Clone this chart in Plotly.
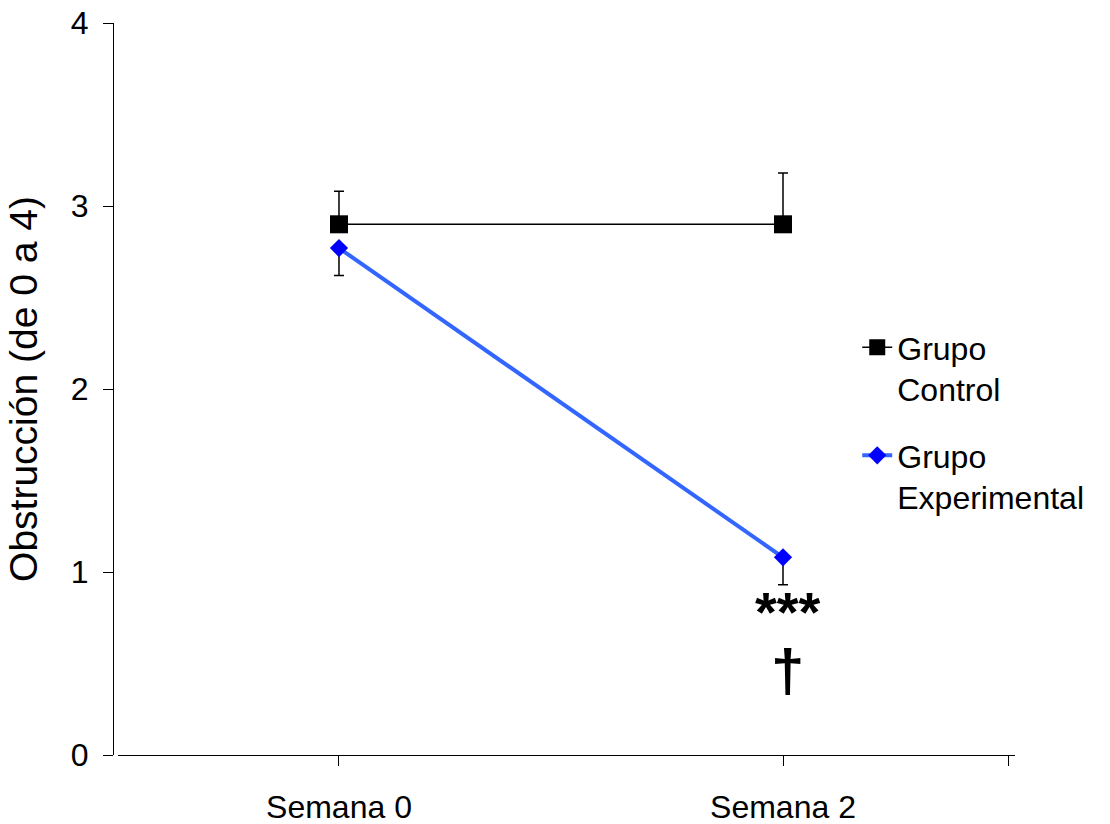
import plotly.graph_objects as go

weeks = ["Semana 0", "Semana 2"]
week_pos = [0, 1]

control_mean = [2.90, 2.90]
control_err_up = [0.18, 0.28]

exp_mean = [2.77, 1.08]
exp_err_down = [0.15, 0.15]

tick_vals = [0, 1, 1.507]
tick_text = ["Semana 0", "Semana 2", ""]

significance_marks = "<b><span style='font-size:56px'>***</span><br><span style='font-size:60px'>†</span></b>"

FONT = "Arial, Liberation Sans, sans-serif"

fig = go.Figure()

fig.add_trace(go.Scatter(
    x=week_pos, y=control_mean, mode="lines+markers",
    name="Grupo<br>Control", legendgroup="c",
    line=dict(color="black", width=1.5),
    marker=dict(symbol="square", size=18, color="black"),
    error_y=dict(type="data", symmetric=False, array=control_err_up,
                 arrayminus=[0, 0], color="black", thickness=1.5, width=5),
))

fig.add_trace(go.Scatter(
    x=week_pos, y=exp_mean, mode="lines+markers",
    name="Grupo<br>Experimental", legendgroup="e",
    line=dict(color="#3366FF", width=4),
    marker=dict(symbol="diamond", size=14, color="#0000FF"),
    error_y=dict(type="data", symmetric=False, array=[0, 0],
                 arrayminus=exp_err_down, color="black", thickness=1.5, width=5),
))

fig.add_annotation(x=1, y=0.618, xref="x", yref="y", text=significance_marks,
                   showarrow=False, xshift=5, align="center",
                   font=dict(family=FONT, size=46, color="black"))

fig.update_layout(
    template="none",
    width=1110, height=824,
    margin=dict(l=113, r=95, t=23, b=69, autoexpand=False),
    paper_bgcolor="white", plot_bgcolor="white",
    font=dict(family=FONT, size=32, color="black"),
    showlegend=True,
    legend=dict(x=0.8251, y=0.5945, xanchor="left", yanchor="top",
                font=dict(family=FONT, size=32, color="black"),
                tracegroupgap=22, valign="top", bgcolor="rgba(0,0,0,0)"),
    xaxis=dict(domain=[5 / 902, 1], range=[-0.4977, 1.5225], automargin=False,
               tickvals=tick_vals, ticktext=tick_text,
               showline=True, linecolor="black", linewidth=1,
               ticks="outside", ticklen=10, tickcolor="black", tickwidth=1,
               showgrid=False, zeroline=False,
               tickfont=dict(family=FONT, size=32, color="black"),
               ticklabelstandoff=14),
    yaxis=dict(range=[0, 4], tickvals=[0, 1, 2, 3, 4], automargin=False,
               anchor="free", position=0, ticklabeloverflow="allow",
               showline=True, linecolor="black", linewidth=1,
               ticks="outside", ticklen=10, tickcolor="black", tickwidth=1,
               showgrid=False, zeroline=False,
               tickfont=dict(family=FONT, size=32, color="black"),
               ticklabelstandoff=8,
               title=dict(text="Obstrucción (de 0 a 4)", standoff=20,
                          font=dict(family=FONT, size=39, color="black"))),
)

fig.write_html("out.html", config={"displayModeBar": False},
               post_script="document.body.style.margin='0';document.body.style.padding='0';")
